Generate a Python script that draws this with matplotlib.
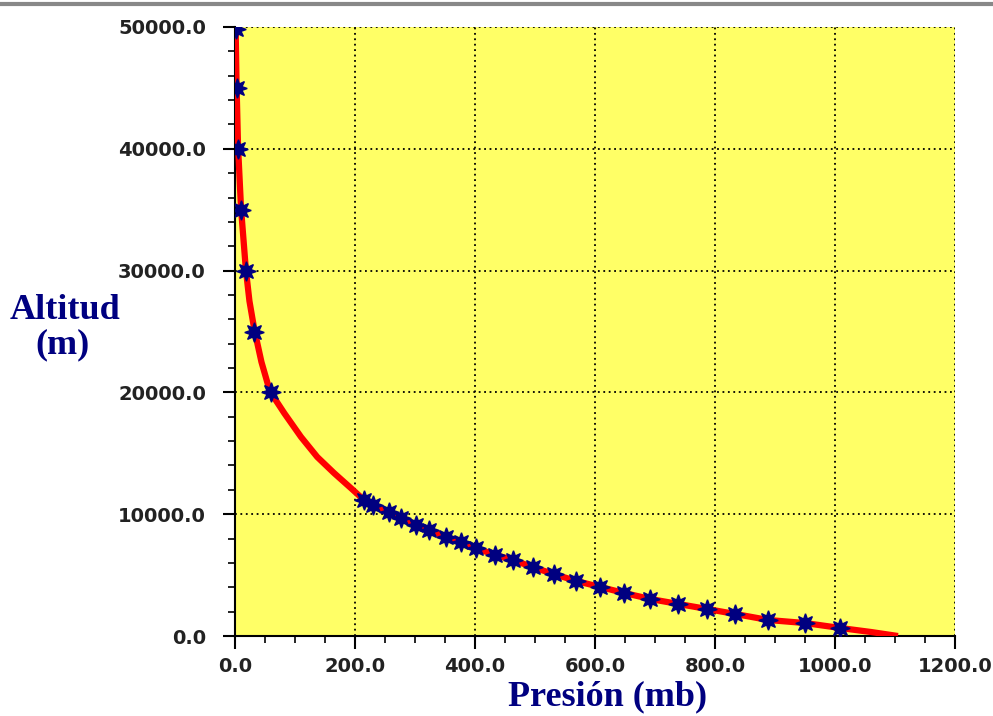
import matplotlib
matplotlib.use('Agg')
import matplotlib.pyplot as plt
from matplotlib.ticker import MultipleLocator, FuncFormatter
from matplotlib.lines import Line2D

# Curva (presión en mb, altitud en m)
curva_presion = [1105, 1060, 1009, 950, 889, 834, 787, 739, 692, 649, 609, 569,
                 531, 496, 463, 434, 401, 376, 351, 323, 301, 276, 256, 230, 215,
                 193, 165, 137, 110, 82, 58, 44, 32, 24, 18, 10, 5, 2.5, 1]
curva_altitud = [0, 330, 657, 1067, 1314, 1806, 2217, 2630, 3040, 3530, 4020, 4515,
                 5090, 5660, 6240, 6650, 7225, 7720, 8130, 8700, 9113, 9690, 10180, 10755, 11166,
                 12150, 13380, 14700, 16340, 18300, 20100, 22500, 25200, 27500, 30100,
                 35100, 40200, 45300, 49800]

# Puntos medidos (estrellas)
puntos_presion = [1009, 950, 889, 834, 787, 739, 692, 649, 609, 569, 531, 496,
                  463, 434, 401, 376, 351, 323, 301, 276, 256, 230, 215,
                  60, 32, 18, 10, 5, 2.5, 1]
puntos_altitud = [657, 1067, 1314, 1806, 2217, 2630, 3040, 3530, 4020, 4515, 5090, 5660,
                  6240, 6650, 7225, 7720, 8130, 8700, 9113, 9690, 10180, 10755, 11166,
                  20000, 25000, 30000, 35000, 40000, 45000, 49800]

fig = plt.figure(figsize=(9.93, 7.16), dpi=100)
ax = fig.add_axes([0.2367, 0.1117, 0.725, 0.8506])
ax.set_facecolor('#ffff66')

ax.plot(curva_presion, curva_altitud, color='#ff0000', lw=4.5, solid_capstyle='butt',
        solid_joinstyle='round', zorder=3)
ax.plot(puntos_presion, puntos_altitud, ls='none', marker=(8, 1, 0), ms=14,
        color='#000080', mec='#000080', zorder=4)

ax.set_xlim(0, 1200)
ax.set_ylim(0, 50000)
ax.xaxis.set_major_locator(MultipleLocator(200))
ax.xaxis.set_minor_locator(MultipleLocator(50))
ax.yaxis.set_major_locator(MultipleLocator(10000))
ax.yaxis.set_minor_locator(MultipleLocator(2000))
fmt = FuncFormatter(lambda v, pos: '%.1f' % v)
ax.xaxis.set_major_formatter(fmt)
ax.yaxis.set_major_formatter(fmt)

ax.grid(True, which='major', color='black', ls=(0, (1, 2)), lw=1.3, zorder=1)
for s in ['top', 'right']:
    ax.spines[s].set_visible(False)
for s in ['left', 'bottom']:
    ax.spines[s].set_linewidth(1.5)

ax.tick_params(which='major', length=9, width=1.5, direction='out',
               labelsize=14, labelcolor='#222222')
ax.tick_params(axis='y', which='major', pad=12)
ax.tick_params(axis='x', which='major', pad=6)
ax.tick_params(which='minor', length=5, width=1.2, direction='out')
for lab in ax.get_xticklabels() + ax.get_yticklabels():
    lab.set_fontweight('bold')

fig.text(0.612, 0.027, 'Presión (mb)', fontsize=26, fontweight='bold', color='#000080',
         family='Liberation Serif', ha='center', va='center')
fig.text(0.065, 1 - 310 / 716, 'Altitud', fontsize=26, fontweight='bold', color='#000080',
         family='Liberation Serif', ha='center', va='center')
fig.text(0.063, 1 - 345 / 716, '(m)', fontsize=26, fontweight='bold', color='#000080',
         family='Liberation Serif', ha='center', va='center')

# marco gris superior de la ventana
fig.add_artist(Line2D([0, 1], [0.994, 0.994], transform=fig.transFigure,
                      color='#888888', lw=3))

fig.savefig('out.png', dpi=100)
